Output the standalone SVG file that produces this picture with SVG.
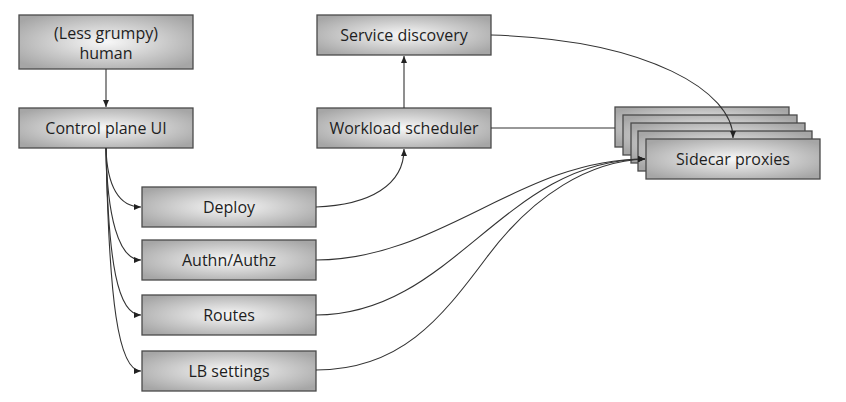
<svg xmlns="http://www.w3.org/2000/svg" width="846" height="402" viewBox="0 0 846 402">
<defs>
<radialGradient id="g" cx="50%" cy="50%" r="62%">
<stop offset="0" stop-color="#f8f8f8"/>
<stop offset="1" stop-color="#a6a6a6"/>
</radialGradient>
<marker id="a" markerUnits="userSpaceOnUse" markerWidth="8" markerHeight="7" refX="7" refY="3.5" orient="auto">
<path d="M0,0.5 L7,3.5 L0,6.5 z" fill="#222"/>
</marker>
</defs>
<style>
.b{fill:url(#g);stroke:#4a4a4a;stroke-width:1.3}
.t{font-family:"Open Sans","Noto Sans",sans-serif;font-size:16px;fill:#1e1e1e;text-anchor:middle;dominant-baseline:central}
.c{fill:none;stroke:#333;stroke-width:1.1}
.m{marker-end:url(#a)}
</style>
<g id="human"><rect class="b" x="19" y="15" width="174" height="54"/><text class="t" x="106" y="33">(Less grumpy)</text><text class="t" x="106" y="53">human</text></g>
<g id="control-plane-ui"><rect class="b" x="19" y="108" width="174" height="40"/><text class="t" x="106" y="128">Control plane UI</text></g>
<g id="service-discovery"><rect class="b" x="317" y="15" width="174" height="40"/><text class="t" x="404" y="35">Service discovery</text></g>
<g id="workload-scheduler"><rect class="b" x="317" y="108" width="174" height="40"/><text class="t" x="404" y="128">Workload scheduler</text></g>
<g id="deploy"><rect class="b" x="142" y="187" width="174" height="40"/><text class="t" x="229" y="207">Deploy</text></g>
<g id="authn-authz"><rect class="b" x="142" y="240" width="174" height="40"/><text class="t" x="229" y="260">Authn/Authz</text></g>
<g id="routes"><rect class="b" x="142" y="295" width="174" height="40"/><text class="t" x="229" y="315">Routes</text></g>
<g id="lb-settings"><rect class="b" x="142" y="351" width="174" height="40"/><text class="t" x="229" y="371">LB settings</text></g>
<g id="sidecar-proxies">
<rect class="b" x="615" y="107" width="174" height="40"/>
<rect class="b" x="623" y="115" width="174" height="40"/>
<rect class="b" x="631" y="123" width="174" height="40"/>
<rect class="b" x="638" y="131" width="174" height="40"/>
<rect class="b" x="646" y="139" width="174" height="40"/>
<text class="t" x="733" y="159">Sidecar proxies</text>
</g>
<g id="connectors">
<path class="c m" d="M106,69 L106,107"/>
<path class="c m" d="M404,108 L404,56"/>
<path class="c" d="M491,128 L615,128"/>
<path class="c m" d="M491,35 C650,40 733,92 733,138"/>
<path class="c m" d="M106,148 C107,186 119,207 141,207"/>
<path class="c m" d="M106,148 C107,215 118,260 141,260"/>
<path class="c m" d="M106,148 C108,265 118,315 141,315"/>
<path class="c m" d="M106,148 C109,300 118,371 141,371"/>
<path class="c m" d="M316,207 C370,205 404,185 404,149"/>
<path class="c m" d="M316,260 C440,260 520,159 645,159"/>
<path class="c m" d="M316,315 C453,315 503,160 645,159"/>
<path class="c m" d="M316,370 C400,370 440,320 487,257 S590,161 645,159"/>
</g>
</svg>
